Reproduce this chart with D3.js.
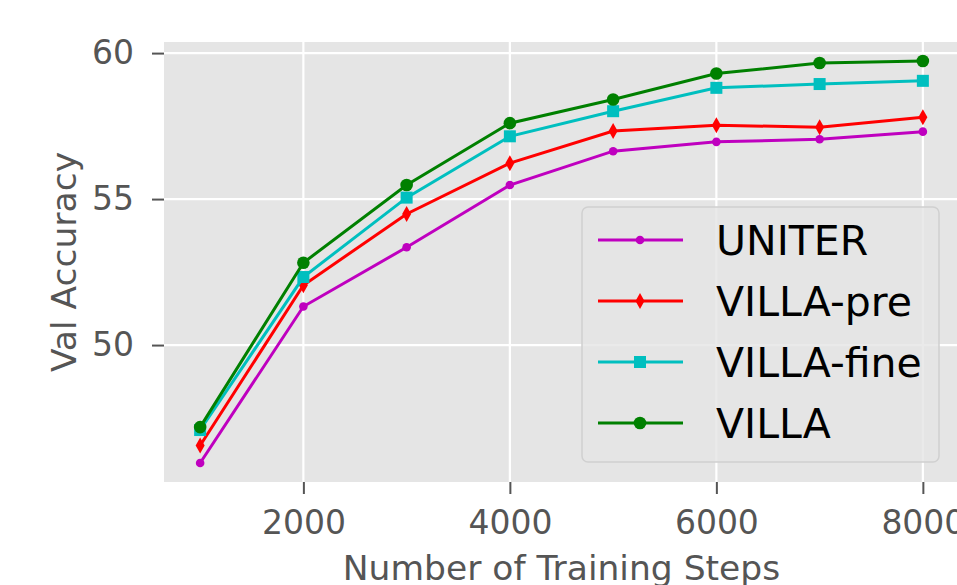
<!DOCTYPE html>
<html>
<head>
<meta charset="utf-8">
<script src="https://cdn.jsdelivr.net/npm/d3@7"></script>
<style>
  body { margin: 0; background: #fff; }
  svg { display: block; font-family: "DejaVu Sans", sans-serif; }
</style>
</head>
<body>
<div id="chart"></div>
<script>
const steps = [1000, 2000, 3000, 4000, 5000, 6000, 7000, 8000];
const uniter = [45.96, 51.32, 53.35, 55.48, 56.64, 56.96, 57.05, 57.31];
const villaPre = [46.56, 52.05, 54.49, 56.23, 57.33, 57.53, 57.46, 57.80];
const villaFine = [47.09, 52.33, 55.05, 57.15, 58.01, 58.81, 58.94, 59.05];
const villa = [47.19, 52.82, 55.48, 57.60, 58.41, 59.30, 59.66, 59.73];
const xTicks = [2000, 4000, 6000, 8000];
const yTicks = [50, 55, 60];

const series = [
  { name: "UNITER", values: uniter, color: "#bf00bf", marker: "dot" },
  { name: "VILLA-pre", values: villaPre, color: "#ff0000", marker: "thin_diamond" },
  { name: "VILLA-fine", values: villaFine, color: "#00bfbf", marker: "square" },
  { name: "VILLA", values: villa, color: "#008000", marker: "circle" }
];

function main() {
  const width = 957;
  const height = 585;
  const left = 164, right = 959, top = 42, bottom = 482;

  const svg = d3
    .select("#chart")
    .append("svg")
    .attr("width", width)
    .attr("height", height);

  const x = d3.scaleLinear().domain([650, 8350]).range([left, right]);
  const y = d3.scaleLinear().domain([45.31, 60.38]).range([bottom, top]);

  svg
    .append("rect")
    .attr("x", left)
    .attr("y", top)
    .attr("width", right - left)
    .attr("height", bottom - top)
    .attr("fill", "#e5e5e5");

  // grid
  svg
    .selectAll(".gx")
    .data(xTicks)
    .enter()
    .append("line")
    .attr("x1", (d) => x(d))
    .attr("x2", (d) => x(d))
    .attr("y1", top)
    .attr("y2", bottom)
    .attr("stroke", "#fff")
    .attr("stroke-width", 2.2);

  svg
    .selectAll(".gy")
    .data(yTicks)
    .enter()
    .append("line")
    .attr("x1", left)
    .attr("x2", right)
    .attr("y1", (d) => y(d))
    .attr("y2", (d) => y(d))
    .attr("stroke", "#fff")
    .attr("stroke-width", 2.2);

  // axes
  const xAxis = d3.axisBottom(x).tickValues(xTicks).tickSize(12).tickPadding(17).tickFormat(d3.format("d"));
  const gx = svg.append("g").attr("transform", `translate(0,${bottom})`).call(xAxis);
  gx.select(".domain").remove();
  gx.selectAll("line").attr("stroke", "#555").attr("stroke-width", 2);
  gx.selectAll("text").attr("fill", "#555").style("font-size", "33px").style("font-family", "DejaVu Sans");

  const yAxis = d3.axisLeft(y).tickValues(yTicks).tickSize(12).tickPadding(18);
  const gy = svg.append("g").attr("transform", `translate(${left},0)`).call(yAxis);
  gy.select(".domain").remove();
  gy.selectAll("line").attr("stroke", "#555").attr("stroke-width", 2);
  gy.selectAll("text").attr("fill", "#555").style("font-size", "33px").style("font-family", "DejaVu Sans");

  svg
    .append("text")
    .attr("x", (left + right) / 2)
    .attr("y", 580)
    .attr("text-anchor", "middle")
    .attr("fill", "#555")
    .style("font-size", "34.5px")
    .text("Number of Training Steps");

  svg
    .append("text")
    .attr("transform", `translate(76,${(top + bottom) / 2}) rotate(-90)`)
    .attr("text-anchor", "middle")
    .attr("fill", "#555")
    .style("font-size", "34.5px")
    .text("Val Accuracy");

  const line = d3
    .line()
    .x((d, i) => x(steps[i]))
    .y((d) => y(d));

  function drawMarker(g, kind, color, cx, cy) {
    if (kind === "dot") {
      g.append("circle").attr("cx", cx).attr("cy", cy).attr("r", 4.3).attr("fill", color);
    } else if (kind === "circle") {
      g.append("circle").attr("cx", cx).attr("cy", cy).attr("r", 6.3).attr("fill", color);
    } else if (kind === "square") {
      g.append("rect").attr("x", cx - 6).attr("y", cy - 6).attr("width", 12).attr("height", 12).attr("fill", color);
    } else {
      g.append("path")
        .attr("d", `M${cx},${cy - 8} L${cx + 4.5},${cy} L${cx},${cy + 8} L${cx - 4.5},${cy} Z`)
        .attr("fill", color);
    }
  }

  series.forEach((s) => {
    svg
      .append("path")
      .datum(s.values)
      .attr("d", line)
      .attr("fill", "none")
      .attr("stroke", s.color)
      .attr("stroke-width", 3);
    const g = svg.append("g");
    s.values.forEach((v, i) => drawMarker(g, s.marker, s.color, x(steps[i]), y(v)));
  });

  // legend
  const legend = svg.append("g");
  legend
    .append("rect")
    .attr("x", 582)
    .attr("y", 207)
    .attr("width", 357)
    .attr("height", 255)
    .attr("rx", 6)
    .attr("fill", "#e5e5e5")
    .attr("fill-opacity", 0.8)
    .attr("stroke", "#d0d0d0")
    .attr("stroke-width", 1.5);

  series.forEach((s, i) => {
    const ry = 240 + i * 61;
    legend
      .append("line")
      .attr("x1", 598)
      .attr("x2", 683)
      .attr("y1", ry)
      .attr("y2", ry)
      .attr("stroke", s.color)
      .attr("stroke-width", 3);
    drawMarker(legend, s.marker, s.color, 640, ry);
    legend
      .append("text")
      .attr("x", 716)
      .attr("y", ry + 15)
      .attr("fill", "#000")
      .style("font-size", "41px")
      .text(s.name);
  });
}

main();
</script>
</body>
</html>
